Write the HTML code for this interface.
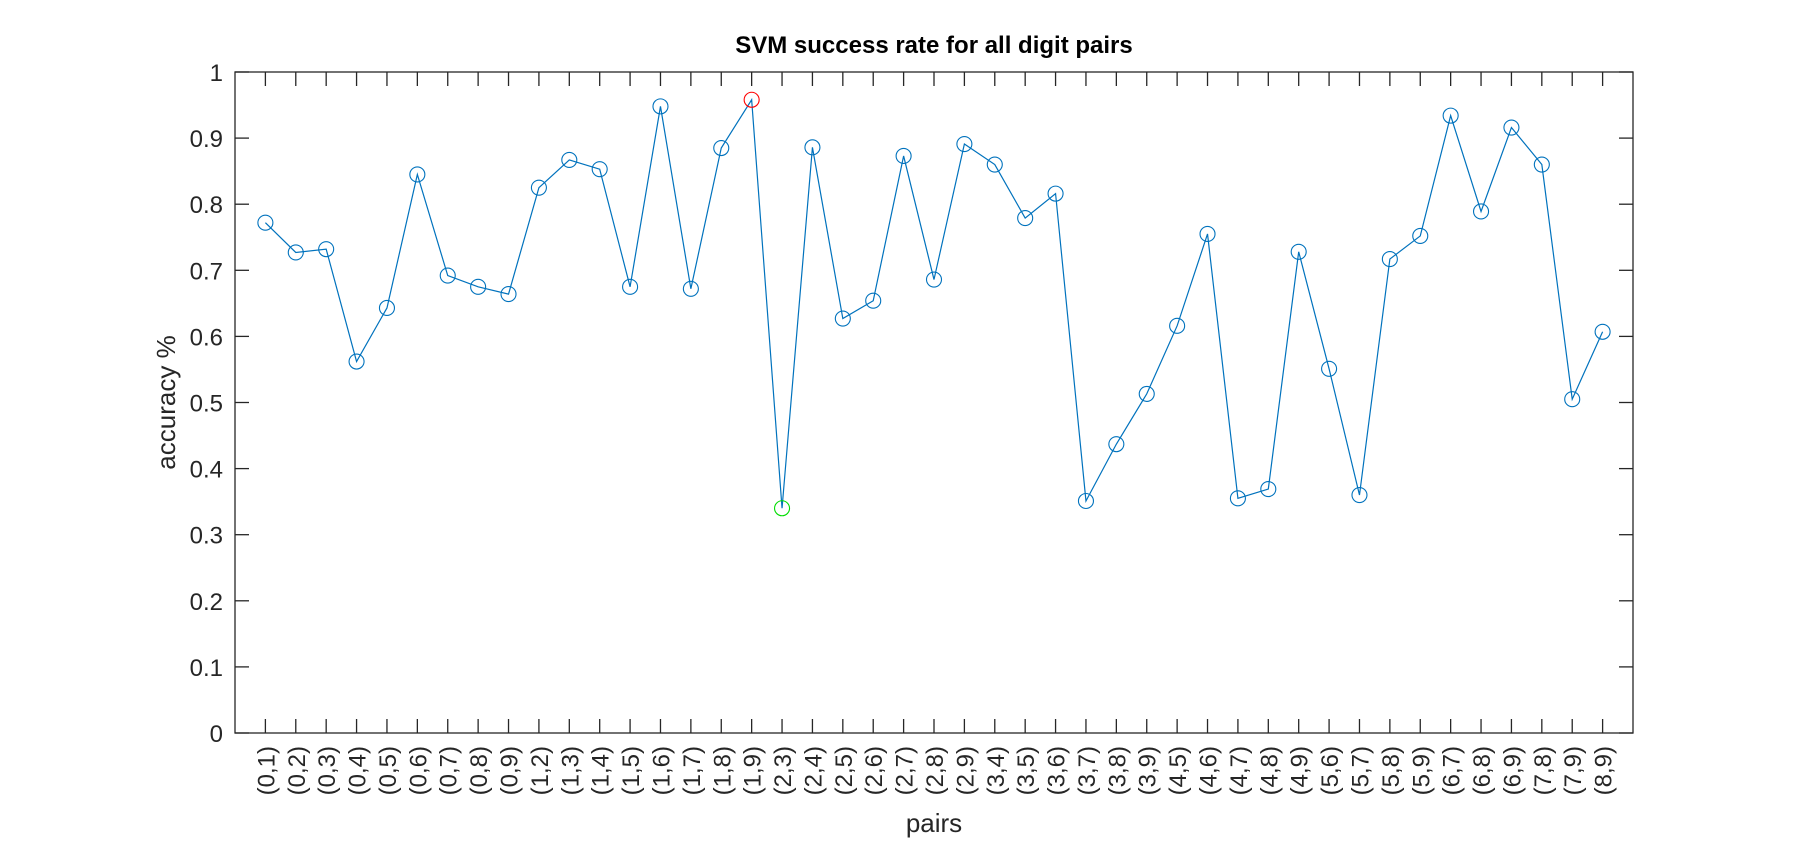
<!DOCTYPE html>
<html><head><meta charset="utf-8"><style>
body{margin:0;background:#fff;width:1805px;height:840px;overflow:hidden}
svg{font-family:"Liberation Sans",Arial,sans-serif}
</style></head><body>
<svg id="chart" width="1805" height="840" xmlns="http://www.w3.org/2000/svg"></svg>
<script>
const categories=["(0,1)","(0,2)","(0,3)","(0,4)","(0,5)","(0,6)","(0,7)","(0,8)","(0,9)","(1,2)","(1,3)","(1,4)","(1,5)","(1,6)","(1,7)","(1,8)","(1,9)","(2,3)","(2,4)","(2,5)","(2,6)","(2,7)","(2,8)","(2,9)","(3,4)","(3,5)","(3,6)","(3,7)","(3,8)","(3,9)","(4,5)","(4,6)","(4,7)","(4,8)","(4,9)","(5,6)","(5,7)","(5,8)","(5,9)","(6,7)","(6,8)","(6,9)","(7,8)","(7,9)","(8,9)"];
const accuracy=[0.772,0.727,0.732,0.562,0.643,0.845,0.692,0.675,0.664,0.825,0.867,0.853,0.675,0.948,0.672,0.885,0.958,0.340,0.886,0.627,0.654,0.873,0.686,0.891,0.860,0.779,0.816,0.351,0.437,0.513,0.616,0.755,0.355,0.369,0.728,0.551,0.360,0.717,0.752,0.934,0.789,0.916,0.860,0.505,0.607];
const yTicks=[0,0.1,0.2,0.3,0.4,0.5,0.6,0.7,0.8,0.9,1];
const yTickLabels=["0","0.1","0.2","0.3","0.4","0.5","0.6","0.7","0.8","0.9","1"];

const L=235,R=1633,T=72,B=733;
const xs=i=>L+(i+1)*(R-L)/(categories.length+1);
const ys=v=>B-v*(B-T);
const svg=document.getElementById('chart');
function mk(tag,attrs,parent){const e=document.createElementNS("http://www.w3.org/2000/svg",tag);for(const k in attrs)e.setAttribute(k,attrs[k]);(parent||svg).appendChild(e);return e;}
const ax='#262626';
let box=mk('rect',{x:L,y:T,width:R-L,height:B-T,fill:'#fff',stroke:ax,'stroke-width':1.3});


yTicks.forEach((v,i)=>{
 const y=ys(v);
 mk('line',{x1:L,x2:L+14,y1:y,y2:y,stroke:ax,'stroke-width':1.3});
 mk('line',{x1:R,x2:R-14,y1:y,y2:y,stroke:ax,'stroke-width':1.3});
 const t=mk('text',{x:L-12,y:y+9,'text-anchor':'end','font-size':24,fill:ax});
 t.textContent=yTickLabels[i];
 
 
});
categories.forEach((c,i)=>{
 const x=xs(i);
 mk('line',{x1:x,x2:x,y1:B,y2:B-14,stroke:ax,'stroke-width':1.3});
 mk('line',{x1:x,x2:x,y1:T,y2:T+14,stroke:ax,'stroke-width':1.3});
 const t=mk('text',{x:0,y:0,'text-anchor':'end','font-size':24,fill:ax,transform:`translate(${x+9},${B+13}) rotate(-90)`});
 t.textContent=c;
 
 
});
const pts=accuracy.map((v,i)=>xs(i)+','+ys(v)).join(' ');
const pl=mk('polyline',{points:pts,fill:'none',stroke:'#0072BD','stroke-width':1.2});


let maxI=0,minI=0;
accuracy.forEach((v,i)=>{if(v>accuracy[maxI])maxI=i;if(v<accuracy[minI])minI=i;});
accuracy.forEach((v,i)=>{
 const col=i===maxI?'#ff0000':(i===minI?'#00dd00':'#0072BD');
 const c=mk('circle',{cx:xs(i),cy:ys(v),r:7.5,fill:'none',stroke:col,'stroke-width':1.1});
 
 
});
const title=mk('text',{x:(L+R)/2,y:53,'text-anchor':'middle','font-size':24,'font-weight':'bold',fill:'#000'});
title.textContent='SVM success rate for all digit pairs';


const xl=mk('text',{x:(L+R)/2,y:832,'text-anchor':'middle','font-size':26,fill:ax});
xl.textContent='pairs';


const yl=mk('text',{x:0,y:0,'text-anchor':'middle','font-size':26,fill:ax,transform:`translate(175,${(T+B)/2}) rotate(-90)`});
yl.textContent='accuracy %';


</script>
</body></html>
